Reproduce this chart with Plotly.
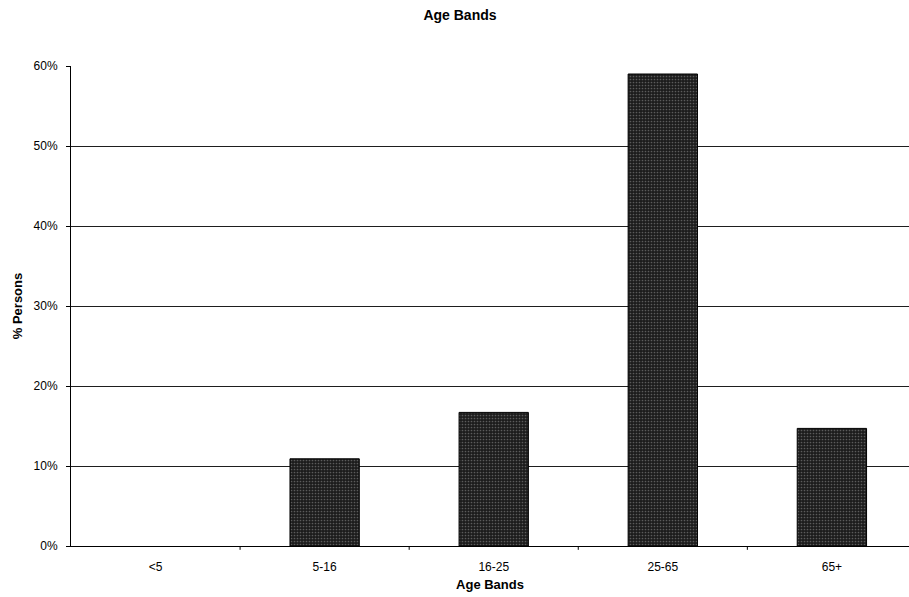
import plotly.graph_objects as go

# Share of persons in each age band
age_bands = ["<5", "5-16", "16-25", "25-65", "65+"]
pct_persons = [0.0, 0.109, 0.167, 0.59, 0.147]
y_ticks = [0, 0.1, 0.2, 0.3, 0.4, 0.5, 0.6]
y_tick_labels = ["0%", "10%", "20%", "30%", "40%", "50%", "60%"]

FONT = "Liberation Sans, Arial, sans-serif"

# No outline on empty bars so a zero value leaves no mark
outline_widths = [1 if v > 0 else 0 for v in pct_persons]

fig = go.Figure(
    go.Bar(
        x=list(range(len(age_bands))),
        y=pct_persons,
        width=0.41,
        marker=dict(
            color="#1c1c1c",
            line=dict(color="#000000", width=outline_widths),
            pattern=dict(shape=".", fgcolor="#9a9a9a", bgcolor="#1c1c1c",
                         size=3, solidity=0.25),
        ),
        hoverinfo="skip",
    )
)

fig.update_layout(
    width=909,
    height=597,
    margin=dict(l=71, r=0, t=66, b=51),
    paper_bgcolor="white",
    plot_bgcolor="white",
    showlegend=False,
    font=dict(family=FONT, size=12, color="#000000"),
    title=dict(
        text="<b>Age Bands</b>",
        xref="container", x=0.506, xanchor="center",
        yref="container", y=0.975, yanchor="middle",
        font=dict(family=FONT, size=14, color="#000000"),
    ),
    xaxis=dict(
        range=[-0.5, 4.456],
        tickmode="array",
        tickvals=list(range(len(age_bands))),
        ticktext=age_bands,
        showgrid=False,
        zeroline=False,
        showline=True,
        linecolor="#000000",
        linewidth=1,
        ticks="",
        ticklabelstandoff=10,
        tickfont=dict(family=FONT, size=12),
        title=dict(text="<b>Age Bands</b>", standoff=6,
                   font=dict(family=FONT, size=13)),
    ),
    yaxis=dict(
        range=[0, 0.6],
        tickmode="array",
        tickvals=y_ticks,
        ticktext=y_tick_labels,
        showgrid=True,
        gridcolor="#1e1e1e",
        gridwidth=1,
        zeroline=False,
        showline=True,
        linecolor="#000000",
        linewidth=1,
        ticks="outside",
        ticklen=4,
        tickcolor="#000000",
        ticklabelstandoff=6,
        tickfont=dict(family=FONT, size=12),
        title=dict(text="<b>% Persons</b>", standoff=8,
                   font=dict(family=FONT, size=13)),
    ),
)

# Category-boundary tick marks along the x axis
for b in [0.5, 1.5, 2.5, 3.5]:
    fig.add_shape(type="line", xref="x", yref="paper",
                  x0=b, x1=b, y0=0, y1=-0.008,
                  line=dict(color="#000000", width=1))

fig.write_html("out.html")
